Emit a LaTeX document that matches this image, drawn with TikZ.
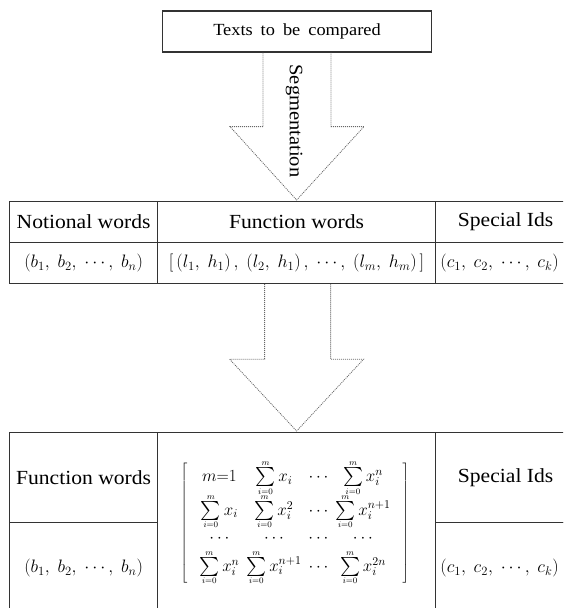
\RequirePackage{fix-cm}
\documentclass[tikz,border=0pt]{standalone}
\usepackage{graphicx}
\usepackage{fontspec}
\setmainfont{Liberation Serif}[FakeStretch=1.08]
\usepackage{tikz}
\usetikzlibrary{calc, positioning}

\newcommand{\bigsig}{\mathop{\vcenter{\hbox{\scalebox{1.9}{$\textstyle\sum$}}}}}
\newcommand{\msum}{\bigsig\limits_{\scriptscriptstyle i=0}^{\scriptscriptstyle m}}

\begin{document}
\begin{tikzpicture}[x=1pt, y=-1pt,
    cell/.style={draw=black!80, line width=1.2pt, inner sep=0pt,
      anchor=north west, font=\fontsize{20}{24}\selectfont},
    blockarrow/.style={draw=black!60, line width=0.8pt,
      dash pattern=on 1pt off 1pt, line join=miter},
  ]
    \useasboundingbox (0,0) rectangle (563,608);
    \clip (0,0) rectangle (563,608);

    % source text
    \node[draw=black!80, line width=1.2pt, minimum width=269, minimum height=41,
      font=\fontsize{17}{20}\selectfont] (txt) at (297,31.5)
      {Texts\hspace{8pt}to\hspace{8pt}be\hspace{8pt}compared};

    % first table
    \node[cell, minimum width=148, minimum height=41] (nw) at (9,201) {Notional words};
    \node[cell, minimum width=278, minimum height=41] (fw) at (157,201) {Function words};
    \node[cell, minimum width=140, minimum height=41] (si) at (435,201) {Special Ids};
    \node[cell, minimum width=148, minimum height=41, font=\fontsize{18}{22}\selectfont] (nv) at (9,242)
      {$(b_1,\ b_2,\ \cdots,\ b_n)$};
    \node[cell, minimum width=278, minimum height=41, font=\fontsize{18}{22}\selectfont] (fv) at (157,242)
      {$[\,(l_1,\ h_1)\,,\ (l_2,\ h_1)\,,\ \cdots,\ (l_m,\ h_m)\,]$};
    \node[cell, minimum width=140, minimum height=41, font=\fontsize{18}{22}\selectfont] (sv) at (435,242)
      {\hspace{-12pt}$(c_1,\ c_2,\ \cdots,\ c_k)$};

    % second table
    \node[cell, minimum width=148, minimum height=90] (fw2) at (9,432) {Function words};
    \node[cell, minimum width=148, minimum height=100, font=\fontsize{18}{22}\selectfont] (bv2) at (9,522)
      {\raisebox{14pt}{$(b_1,\ b_2,\ \cdots,\ b_n)$}};
    \node[cell, minimum width=278, minimum height=190] (mx) at (157,432) {};
    \node[cell, minimum width=140, minimum height=90] (si2) at (435,432) {Special Ids};
    \node[cell, minimum width=140, minimum height=100, font=\fontsize{18}{22}\selectfont] (cv2) at (435,522)
      {\hspace{-12pt}\raisebox{14pt}{$(c_1,\ c_2,\ \cdots,\ c_k)$}};

    \node[font=\fontsize{17}{20}\selectfont, inner sep=0pt] (mat) at (295,523)
      {$\left[\begin{array}{@{\hspace{12pt}}c@{\hspace{7pt}}c@{\hspace{7pt}}c@{\hspace{7pt}}c@{\hspace{12pt}}}
        m{=}1 & \msum x_i & \cdots & \msum x_i^{n}\\[6pt]
        \msum x_i & \msum x_i^{2} & \cdots & \msum x_i^{n+1}\\[4pt]
        \cdots & \cdots & \cdots & \cdots\\[2pt]
        \msum x_i^{n} & \msum x_i^{n+1} & \cdots & \msum x_i^{2n}
      \end{array}\right]$};

    % arrows
    \draw[blockarrow] ($(txt.south)+(-34,0)$) -- ++(0,74) -- ++(-33,0)
      -- ($(fw.north)+(0,-1)$) -- ($(txt.south)+(67,74)$) -- ++(-33,0)
      -- ($(txt.south)+(34,0)$);
    \draw[blockarrow] ($(fv.south)+(-32,0)$) -- ++(0,75) -- ++(-35,0)
      -- ($(mx.north)+(0,-1)$) -- ($(fv.south)+(67,75)$) -- ++(-33,0)
      -- ($(fv.south)+(34,0)$);
    \node[rotate=-90, font=\fontsize{19}{22}\selectfont] (seg) at (294,121) {Segmentation};
\end{tikzpicture}
\end{document}
